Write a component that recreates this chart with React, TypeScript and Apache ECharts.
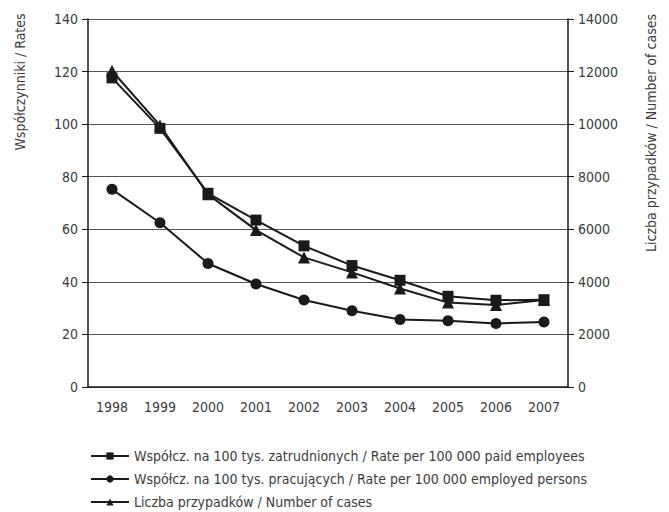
import React, { useEffect, useRef } from "react";
import * as echarts from "echarts";

const years = ["1998", "1999", "2000", "2001", "2002", "2003", "2004", "2005", "2006", "2007"];
const ratePaid = [117.6, 98.4, 73.7, 63.5, 53.7, 46.2, 40.6, 34.5, 33.0, 33.2];
const rateEmployed = [75.2, 62.5, 47.0, 39.2, 33.1, 29.0, 25.7, 25.2, 24.2, 24.7];
const cases = [12030, 9950, 7330, 5970, 4930, 4360, 3750, 3210, 3120, 3310];
const leftTicks = { min: 0, max: 140, interval: 20 };
const rightTicks = { min: 0, max: 14000, interval: 2000 };

const nameRatePaid = "Współcz. na 100 tys. zatrudnionych / Rate per 100 000 paid employees";
const nameRateEmployed = "Współcz. na 100 tys. pracujących / Rate per 100 000 employed persons";
const nameCases = "Liczba przypadków / Number of cases";
const leftTitle = "Współczynniki / Rates";
const rightTitle = "Liczba przypadków / Number of cases";

const FONT = "'DejaVu Sans Condensed', 'Liberation Sans Narrow', sans-serif";
const TXT = "#3c3c3c";
const LINE = "#1a1a1a";

export default function App() {
  const ref = useRef<HTMLDivElement>(null);
  useEffect(() => {
    if (!ref.current) return;
    const chart = echarts.init(ref.current, null, { renderer: "svg" });
    const axisLabel = { color: TXT, fontFamily: FONT, fontSize: 14 };
    const legendBase = {
      orient: "horizontal",
      left: 90,
      padding: 0,
      itemWidth: 38,
      itemHeight: 9,
      textStyle: { color: TXT, fontFamily: FONT, fontSize: 14 },
    };
    chart.setOption({
      animation: false,
      backgroundColor: "#ffffff",
      textStyle: { fontFamily: FONT },
      grid: { left: 88, right: 101, top: 19, bottom: 125, containLabel: false },
      xAxis: {
        type: "category",
        data: years,
        boundaryGap: true,
        axisLine: { show: true, lineStyle: { color: LINE, width: 1.5 } },
        axisTick: { show: false },
        axisLabel: { ...axisLabel, margin: 13 },
        splitLine: { show: false },
      },
      yAxis: [
        {
          type: "value",
          position: "left",
          ...leftTicks,
          axisLine: { show: true, lineStyle: { color: LINE, width: 1.5 } },
          axisTick: { show: true, inside: false, length: 6, lineStyle: { color: LINE } },
          axisLabel: { ...axisLabel, margin: 10 },
          splitLine: { show: true, lineStyle: { color: "#555555", width: 1.2 } },
        },
        {
          type: "value",
          position: "right",
          ...rightTicks,
          axisLine: { show: true, lineStyle: { color: LINE, width: 1.5 } },
          axisTick: { show: true, inside: false, length: 6, lineStyle: { color: LINE } },
          axisLabel: { ...axisLabel, margin: 10, formatter: (v: number) => String(v) },
          splitLine: { show: false },
        },
      ],
      legend: [
        { ...legendBase, top: 449, data: [nameRatePaid] },
        { ...legendBase, top: 472, data: [nameRateEmployed] },
        { ...legendBase, top: 495, data: [nameCases] },
      ],
      graphic: [
        {
          type: "text",
          x: 20,
          y: 82,
          rotation: Math.PI / 2,
          style: {
            text: leftTitle,
            fill: TXT,
            font: `14px ${FONT}`,
            align: "center",
            verticalAlign: "middle",
          },
        },
        {
          type: "text",
          x: 651,
          y: 133,
          rotation: Math.PI / 2,
          style: {
            text: rightTitle,
            fill: TXT,
            font: `14px ${FONT}`,
            align: "center",
            verticalAlign: "middle",
          },
        },
      ],
      series: [
        {
          name: nameCases,
          type: "line",
          yAxisIndex: 1,
          data: cases,
          symbol: "triangle",
          symbolSize: 12,
          lineStyle: { color: LINE, width: 2 },
          itemStyle: { color: LINE },
          z: 2,
        },
        {
          name: nameRateEmployed,
          type: "line",
          yAxisIndex: 0,
          data: rateEmployed,
          symbol: "circle",
          symbolSize: 11,
          lineStyle: { color: LINE, width: 2 },
          itemStyle: { color: LINE },
          z: 3,
        },
        {
          name: nameRatePaid,
          type: "line",
          yAxisIndex: 0,
          data: ratePaid,
          symbol: "rect",
          symbolSize: 11,
          lineStyle: { color: LINE, width: 2 },
          itemStyle: { color: LINE },
          z: 4,
        },
      ],
    });
    return () => chart.dispose();
  }, []);
  return (
    <div
      ref={ref}
      style={{ position: "absolute", left: 0, top: 0, width: 669, height: 512 }}
    />
  );
}
